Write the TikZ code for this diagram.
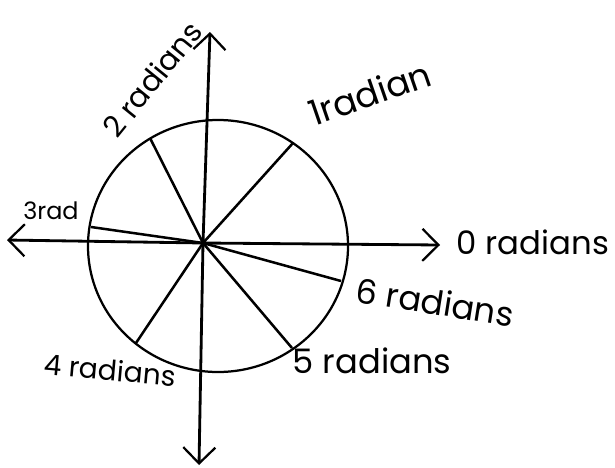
\documentclass[tikz,border=0pt]{standalone}
\usepackage{fontspec}
\setmainfont{Poppins}
\usepackage{tikz}
\usetikzlibrary{calc,positioning,arrows.meta}

\begin{document}
\begin{tikzpicture}[x=0.025cm, y=-0.025cm,
  axis/.style={line width=2pt, -{Straight Barb[length=4mm, width=8mm, line width=1.6pt]}},
  spoke/.style={line width=1.8pt},
  lbl/.style={font=\fontsize{23}{25}\selectfont, inner sep=0pt}]
  \useasboundingbox (0,0) rectangle (615,467);

  % Centre and axes
  \coordinate (O) at (203,243);
  \coordinate (xr) at (440,245);
  \coordinate (xl) at (7,240);
  \coordinate (yt) at (210,32);
  \coordinate (yb) at (199,465);
  \draw[axis] (O) -- (xr);
  \draw[axis] (O) -- (xl);
  \draw[axis] (O) -- (yt);
  \draw[axis] (O) -- (yb);

  % Circle
  \coordinate (C) at (218,246);
  \draw[line width=1.6pt] (C) ellipse [x radius=130, y radius=126];

  % Spokes
  \coordinate (r1) at (293,143);
  \coordinate (r2) at (150,138);
  \coordinate (r3) at (91,227);
  \coordinate (r4) at (136,343);
  \coordinate (r5) at (292,348);
  \coordinate (r6) at (341,281);
  \foreach \r in {r1,r2,r3,r4,r5,r6}
    \draw[spoke] (O) -- (\r);

  % Labels
  \node[lbl] (l0) at (533,242) {0 radians};
  \node[lbl, rotate=19, font=\fontsize{25}{27}\selectfont] (l1) at (370,93) {1radian};
  \node[lbl, rotate=51, font=\fontsize{21}{23}\selectfont] (l2) at (152,79) {2 radians};
  \node[lbl, font=\fontsize{17}{19}\selectfont] (l3) at (51,211) {3rad};
  \node[lbl, rotate=-5, font=\fontsize{20}{22}\selectfont] (l4) at (110,370) {4 radians};
  \node[lbl, font=\fontsize{24}{26}\selectfont] (l5) at (372,361) {5 radians};
  \node[lbl, rotate=-9, font=\fontsize{24}{26}\selectfont] (l6) at (435,302) {6 radians};
\end{tikzpicture}
\end{document}
